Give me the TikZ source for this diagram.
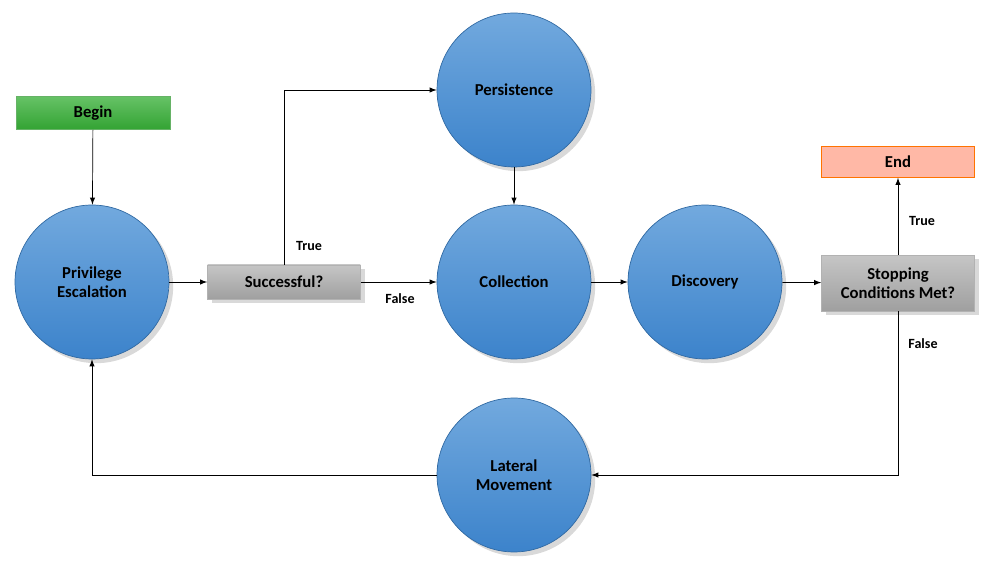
\documentclass[tikz,border=0pt]{standalone}
\usepackage{fontspec}
\setmainfont{Carlito}
\usetikzlibrary{arrows,shapes,positioning,shadows}
\definecolor{bluetop}{HTML}{72A9DE}
\definecolor{bluebot}{HTML}{3C83CB}
\tikzset{
  basic/.style  = {draw, font=\bfseries\fontsize{9.5}{11}\selectfont, align=center},
  phase/.style  = {basic, circle, minimum size=3.08cm, draw=bluebot!80!black, top color=bluetop, bottom color=bluebot, drop shadow={opacity=0.3}},
  check/.style  = {basic, rectangle, minimum width=3.06cm, draw=gray!60, top color=gray!45, bottom color=gray!75, drop shadow={opacity=0.3}},
  label/.style  = {font=\bfseries\fontsize{8}{10}\selectfont}
}

\begin{document}
\begin{tikzpicture}[x=0.02cm,y=-0.02cm,>=latex]
    \useasboundingbox (0,0) rectangle (994,570);

    % start and end
    \node[basic, minimum width=3.08cm, minimum height=0.66cm, draw=green!50!black!60, top color=green!60!black!60, bottom color=green!55!black!80] (begin) at (93,113) {Begin};
    \node[basic, font=\normalfont\bfseries\fontsize{9.5}{11}\selectfont, minimum width=3.06cm, minimum height=0.62cm, draw=orange!90!red, fill=orange!40!red!35] (end) at (898,162) {End};

    % phases
    \node[phase] (priv) at (92,282) {Privilege\\Escalation};
    \node[phase] (pers) at (514,90) {Persistence};
    \node[phase] (coll) at (514,282) {Collection};
    \node[phase] (disc) at (705,282) {Discovery};
    \node[phase] (lat) at (514,475) {Lateral\\Movement};

    % decisions
    \node[check, minimum height=0.68cm] (succ) at (284,282) {Successful?};
    \node[check, minimum height=1.12cm] (stop) at (898,283) {Stopping\\Conditions Met?};

    \draw[->] (begin) -- (priv);
    \draw[->] (priv) -- (succ);
    \draw[->] (succ.north) |- (pers.west);
    \draw[->] (succ) -- (coll);
    \draw[->] (pers) -- (coll);
    \draw[->] (coll) -- (disc);
    \draw[->] (disc) -- (stop);
    \draw[->] (stop) -- (end);
    \draw[->] (stop.south) |- (lat.east);
    \draw[->] (lat.west) -| (priv.south);

    \node[label] (t1) at (309,246) {True};
    \node[label] (f1) at (400,299) {False};
    \node[label] (t2) at (922,221) {True};
    \node[label] (f2) at (923,344) {False};
\end{tikzpicture}
\end{document}
